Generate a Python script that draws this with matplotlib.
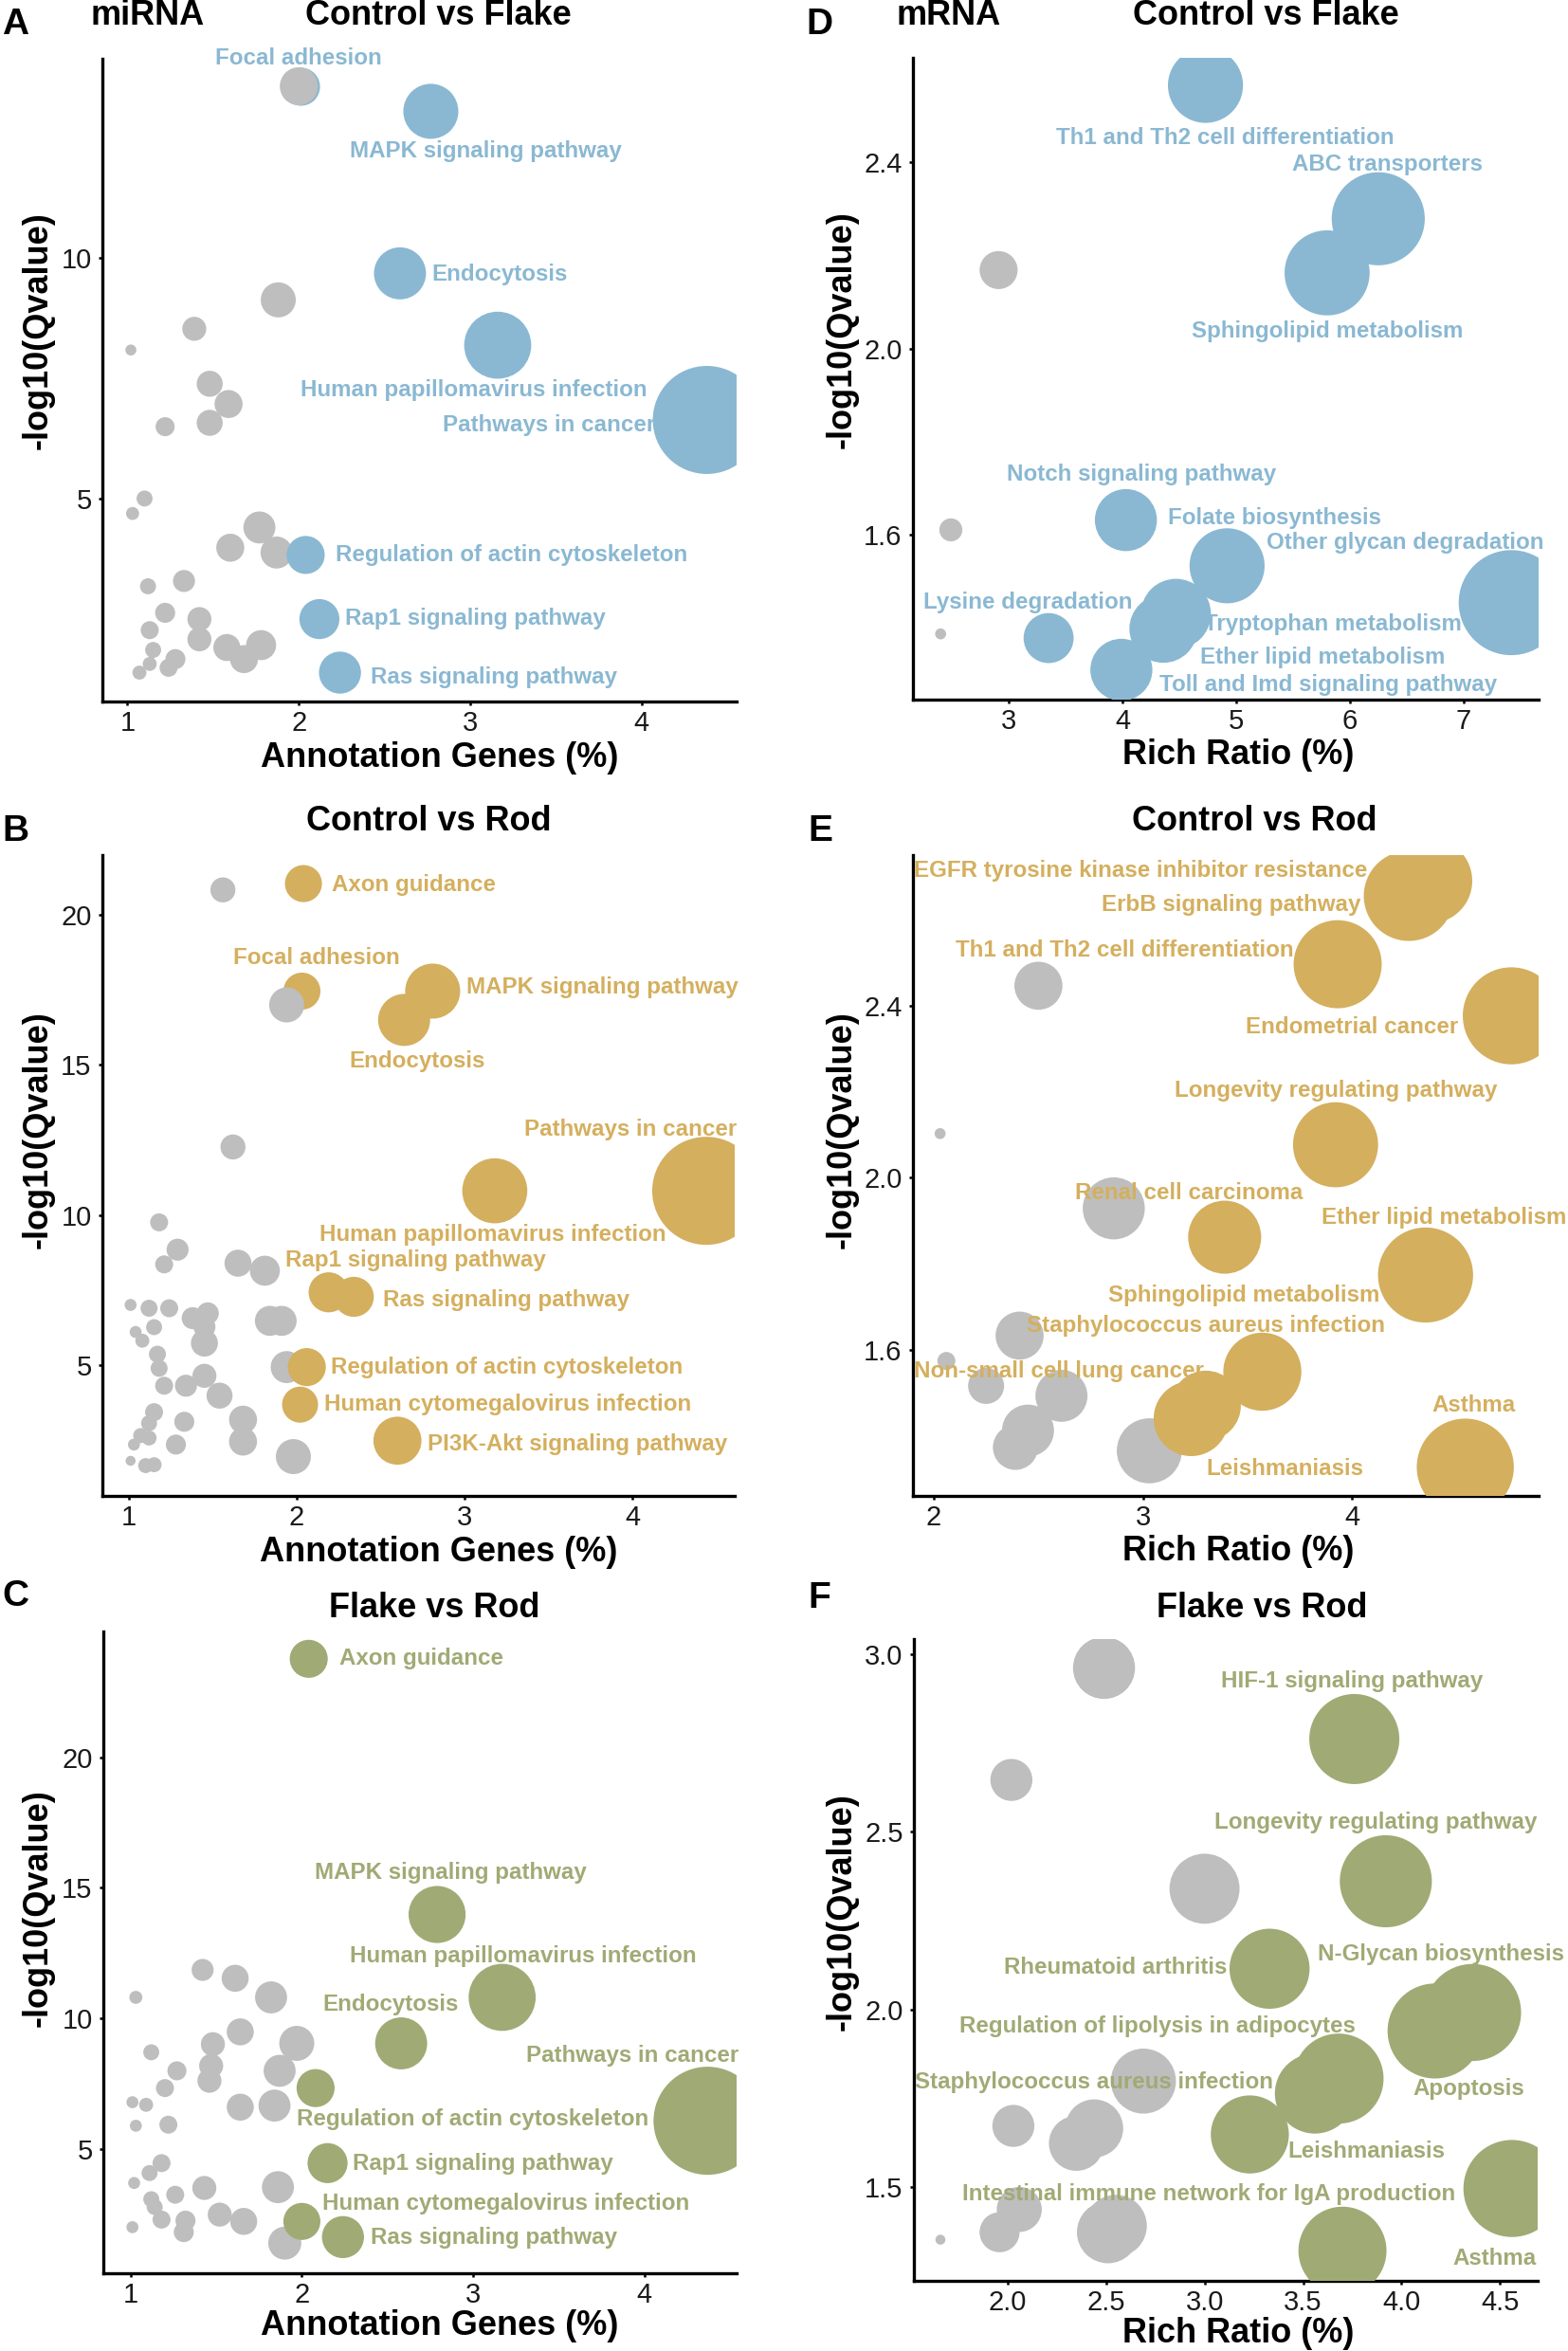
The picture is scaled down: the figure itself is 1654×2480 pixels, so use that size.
import matplotlib
matplotlib.use("Agg")
import matplotlib.pyplot as plt
from matplotlib.ticker import FormatStrFormatter

plt.rcParams['font.family'] = ['Liberation Sans', 'DejaVu Sans']

W, H, DPI = 1654, 2480, 200

BLUE = '#8ab8d2'
GOLD = '#d4af5e'
GREEN = '#a0aa75'
GREY = '#bebebe'

# ---------------- A: miRNA, Control vs Flake ----------------
a_grey_x = [2.00, 1.88, 1.39, 1.02, 1.48, 1.59, 1.48, 1.22, 1.10, 1.03, 1.77, 1.60, 1.87, 1.33,
            1.12, 1.22, 1.13, 1.42, 1.42, 1.58, 1.78, 1.68, 1.28, 1.15, 1.24, 1.13, 1.07]
a_grey_y = [13.55, 9.12, 8.52, 8.08, 7.38, 6.96, 6.57, 6.49, 5.00, 4.69, 4.40, 3.98, 3.88, 3.29,
            3.18, 2.63, 2.27, 2.50, 2.08, 1.91, 1.96, 1.67, 1.67, 1.86, 1.49, 1.57, 1.39]
a_grey_n = [19, 17.5, 12, 5.5, 13, 14, 13, 9.5, 8, 6.5, 16, 14, 16, 11,
            8, 10, 9, 12, 12, 13.5, 15, 14, 10, 8, 9, 7, 7]
a_hit_x = [2.01, 2.77, 2.59, 3.16, 4.38, 2.04, 2.12, 2.24]
a_hit_y = [13.55, 13.03, 9.67, 8.18, 6.63, 3.83, 2.50, 1.39]
a_hit_n = [19, 27.5, 26, 33.5, 54, 19, 20, 21]
a_terms = ['Focal adhesion', 'MAPK signaling pathway', 'Endocytosis', 'Human papillomavirus infection',
           'Pathways in cancer', 'Regulation of actin cytoskeleton', 'Rap1 signaling pathway',
           'Ras signaling pathway']
a_lab_x = [2.00, 3.09, 3.17, 3.02, 3.46, 3.24, 3.03, 3.14]
a_lab_y = [14.13, 12.20, 9.65, 7.25, 6.52, 3.83, 2.51, 1.30]

# ---------------- B: miRNA, Control vs Rod ----------------
b_grey_x = [1.56, 1.94, 1.62, 1.18, 1.29, 1.21, 1.65, 1.81, 1.01, 1.12, 1.24, 1.38, 1.47, 1.45,
            1.84, 1.91, 1.04, 1.08, 1.15, 1.45, 1.17, 1.18, 1.45, 1.34, 1.21, 1.54, 1.94, 1.15,
            1.12, 1.33, 1.68, 1.68, 1.28, 1.07, 1.12, 1.03, 1.01, 1.10, 1.15, 1.98]
b_grey_y = [20.82, 16.99, 12.26, 9.75, 8.84, 8.35, 8.39, 8.14, 7.00, 6.89, 6.89, 6.56, 6.72, 6.27,
            6.47, 6.47, 6.10, 5.81, 6.26, 5.73, 5.36, 4.89, 4.64, 4.31, 4.31, 3.98, 4.93, 3.43,
            3.06, 3.11, 3.18, 2.45, 2.35, 2.65, 2.57, 2.35, 1.81, 1.65, 1.68, 1.95]
b_grey_n = [12.5, 17.5, 12.5, 9, 11, 9, 13.5, 15, 6, 8.5, 9, 11, 11, 11,
            15, 15, 6, 7, 8, 13.5, 8.5, 8.5, 12, 11, 9, 13, 16, 9,
            8, 10, 14, 14, 10, 7.5, 7.5, 6, 5, 7.5, 7.5, 17.5]
b_hit_x = [2.04, 2.03, 2.81, 2.64, 3.18, 4.44, 2.19, 2.34, 2.06, 2.02, 2.60]
b_hit_y = [21.03, 17.45, 17.45, 16.49, 10.80, 10.80, 7.42, 7.27, 4.93, 3.68, 2.48]
b_hit_n = [18.5, 18.5, 27.5, 26, 32.5, 54, 20, 20, 19, 18, 24]
b_terms = ['Axon guidance', 'Focal adhesion', 'MAPK signaling pathway', 'Endocytosis',
           'Human papillomavirus infection', 'Pathways in cancer', 'Rap1 signaling pathway',
           'Ras signaling pathway', 'Regulation of actin cytoskeleton',
           'Human cytomegalovirus infection', 'PI3K-Akt signaling pathway']
b_lab_x = [2.70, 2.12, 3.82, 2.72, 3.17, 3.99, 2.71, 3.25, 3.25, 3.26, 3.67]
b_lab_y = [20.98, 18.54, 17.57, 15.12, 9.33, 12.83, 8.47, 7.17, 4.93, 3.68, 2.36]

# ---------------- C: miRNA, Flake vs Rod ----------------
c_grey_x = [1.03, 1.42, 1.61, 1.82, 1.64, 1.48, 1.97, 1.12, 1.27, 1.47, 1.87, 1.46, 1.20, 1.01,
            1.09, 1.64, 1.84, 1.03, 1.22, 1.18, 1.11, 1.02, 1.43, 1.86, 1.12, 1.26, 1.14, 1.52,
            1.66, 1.18, 1.32, 1.31, 1.01, 1.90]
c_grey_y = [10.81, 11.86, 11.54, 10.81, 9.49, 9.02, 9.05, 8.71, 8.00, 8.19, 8.00, 7.62, 7.34, 6.80,
            6.70, 6.61, 6.67, 5.90, 5.94, 4.47, 4.09, 3.71, 3.52, 3.55, 3.09, 3.26, 2.79, 2.50,
            2.24, 2.31, 2.27, 1.83, 2.02, 1.41]
c_grey_n = [6.5, 11, 13.5, 16, 13.5, 12, 17.5, 8, 9.5, 12, 16, 12, 9, 6,
            7, 13.5, 16, 6, 9, 9, 8, 6, 12, 16, 8, 9, 8, 12,
            13.5, 9, 10, 10, 6, 16.5]
c_hit_x = [2.04, 2.79, 3.17, 2.58, 4.37, 2.08, 2.15, 2.00, 2.24]
c_hit_y = [23.76, 13.98, 10.81, 9.05, 6.09, 7.34, 4.47, 2.24, 1.64]
c_hit_n = [19, 28.5, 33.5, 26, 54, 19, 20, 18.5, 21]
c_terms = ['Axon guidance', 'MAPK signaling pathway', 'Human papillomavirus infection', 'Endocytosis',
           'Pathways in cancer', 'Regulation of actin cytoskeleton', 'Rap1 signaling pathway',
           'Human cytomegalovirus infection', 'Ras signaling pathway']
c_lab_x = [2.70, 2.87, 3.29, 2.52, 3.93, 3.00, 3.06, 3.19, 3.12]
c_lab_y = [23.76, 15.59, 12.40, 10.55, 8.58, 6.15, 4.43, 2.94, 1.60]

# ---------------- D: mRNA, Control vs Flake ----------------
d_grey_x = [2.91, 2.49, 2.40]
d_grey_y = [2.168, 1.611, 1.388]
d_grey_n = [19, 11.5, 5.5]
d_hit_x = [4.73, 6.25, 5.80, 4.03, 4.92, 7.42, 4.47, 4.36, 3.35, 3.99]
d_hit_y = [2.564, 2.278, 2.162, 1.632, 1.534, 1.455, 1.431, 1.399, 1.379, 1.311]
d_hit_n = [37.5, 46.5, 42.5, 31, 37.5, 52.5, 35, 34, 25, 31]
d_terms = ['Th1 and Th2 cell differentiation', 'ABC transporters', 'Sphingolipid metabolism',
           'Notch signaling pathway', 'Folate biosynthesis', 'Other glycan degradation',
           'Lysine degradation', 'Tryptophan metabolism', 'Ether lipid metabolism',
           'Toll and Imd signaling pathway']
d_lab_x = [4.90, 6.33, 5.80, 4.17, 5.34, 6.49, 3.17, 5.85, 5.76, 5.81]
d_lab_y = [2.451, 2.395, 2.037, 1.729, 1.637, 1.584, 1.455, 1.409, 1.338, 1.279]

# ---------------- E: mRNA, Control vs Rod ----------------
e_grey_x = [2.50, 2.03, 2.86, 2.41, 2.06, 2.25, 2.61, 2.45, 2.39, 3.03]
e_grey_y = [2.447, 2.103, 1.929, 1.633, 1.574, 1.516, 1.493, 1.412, 1.373, 1.365]
e_grey_n = [24, 5.5, 31, 24, 9, 18, 26, 26, 22.5, 32.5]
e_hit_x = [4.37, 4.27, 3.93, 4.76, 3.92, 3.39, 4.35, 3.57, 3.30, 3.23, 4.54]
e_hit_y = [2.691, 2.656, 2.497, 2.377, 2.077, 1.862, 1.774, 1.549, 1.470, 1.440, 1.327]
e_hit_n = [42.5, 45, 44, 48.5, 42.5, 36.5, 47.5, 39, 35, 37.5, 48.5]
e_terms = ['EGFR tyrosine kinase inhibitor resistance', 'ErbB signaling pathway',
           'Th1 and Th2 cell differentiation', 'Endometrial cancer', 'Longevity regulating pathway',
           'Renal cell carcinoma', 'Ether lipid metabolism', 'Sphingolipid metabolism',
           'Staphylococcus aureus infection', 'Non-small cell lung cancer', 'Asthma', 'Leishmaniasis']
e_lab_x = [2.99, 3.42, 2.91, 4.00, 3.92, 3.22, 4.44, 3.48, 3.30, 2.60, 4.58, 3.68]
e_lab_y = [2.714, 2.635, 2.530, 2.351, 2.202, 1.964, 1.908, 1.726, 1.656, 1.551, 1.470, 1.324]

# ---------------- F: mRNA, Flake vs Rod ----------------
f_grey_x = [2.49, 2.02, 3.00, 2.69, 2.03, 2.44, 2.35, 2.06, 1.96, 2.55, 2.51, 1.66]
f_grey_y = [2.961, 2.646, 2.340, 1.799, 1.673, 1.666, 1.624, 1.438, 1.374, 1.392, 1.374, 1.353]
f_grey_n = [31, 21, 35, 32.5, 21, 29, 27.5, 22.5, 20, 31, 31, 5]
f_hit_x = [3.76, 3.92, 3.33, 4.36, 4.17, 3.68, 3.56, 3.23, 4.56, 3.70]
f_hit_y = [2.761, 2.361, 2.115, 1.992, 1.940, 1.806, 1.764, 1.649, 1.497, 1.322]
f_hit_n = [45, 46, 40, 48.5, 47.5, 45, 40, 39, 48.5, 44]
f_terms = ['HIF-1 signaling pathway', 'Longevity regulating pathway', 'Rheumatoid arthritis',
           'N-Glycan biosynthesis', 'Regulation of lipolysis in adipocytes',
           'Staphylococcus aureus infection', 'Apoptosis', 'Leishmaniasis',
           'Intestinal immune network for IgA production', 'Asthma']
f_lab_x = [3.75, 3.87, 2.55, 4.20, 2.76, 2.44, 4.34, 3.82, 3.02, 4.47]
f_lab_y = [2.923, 2.527, 2.119, 2.157, 1.954, 1.796, 1.778, 1.600, 1.480, 1.301]


def bubble(n):
    # gene count -> marker area (pt^2)
    return (0.76 * n) ** 2


def panel(rect, gx, gy, gn, hx, hy, hn, terms, lx, ly, color, xlim, ylim, xticks, yticks,
          xlabel, fmt=None, back=(), ylab_pos=(-0.10, 0.575), xlab_pos=(0.53, -0.088)):
    ax = fig.add_axes(rect)
    ax.scatter(gx, gy, s=[bubble(n) for n in gn], c=GREY, linewidths=0, zorder=2)
    for keep, z in ((True, 1), (False, 3)):
        idx = [i for i in range(len(hx)) if (i in back) == keep]
        if idx:
            ax.scatter([hx[i] for i in idx], [hy[i] for i in idx], s=[bubble(hn[i]) for i in idx],
                       c=color, linewidths=0, zorder=z)
    for t, x, y in zip(terms, lx, ly):
        ax.text(x, y, t, color=color, fontsize=8.7, fontweight='bold', ha='center', va='center',
                zorder=5, clip_on=False)
    ax.set_xlim(*xlim)
    ax.set_ylim(*ylim)
    ax.set_xticks(xticks)
    ax.set_yticks(yticks)
    if fmt:
        ax.yaxis.set_major_formatter(FormatStrFormatter(fmt))
    for s in ('top', 'right'):
        ax.spines[s].set_visible(False)
    for s in ('left', 'bottom'):
        ax.spines[s].set_linewidth(1.2)
    ax.tick_params(direction='out', length=1.6, width=0.9, labelsize=10.5, labelcolor='#1a1a1a')
    ax.tick_params(axis='x', pad=1.5)
    ax.tick_params(axis='y', pad=2.5)
    ax.set_xlabel(xlabel, fontsize=13, fontweight='bold', va='center')
    ax.set_ylabel('-log10(Qvalue)', fontsize=13, fontweight='bold', va='center')
    ax.xaxis.set_label_coords(*xlab_pos)
    ax.yaxis.set_label_coords(*ylab_pos)
    return ax


fig = plt.figure(figsize=(W / DPI, H / DPI), dpi=DPI)

panel([0.0653, 0.7016, 0.4045, 0.2734], a_grey_x, a_grey_y, a_grey_n, a_hit_x, a_hit_y, a_hit_n,
      a_terms, a_lab_x, a_lab_y, BLUE, (0.854, 4.554), (0.79, 14.12), [1, 2, 3, 4], [5, 10],
      'Annotation Genes (%)', back=(0,), ylab_pos=(-0.102, 0.577), xlab_pos=(0.531, -0.087))
panel([0.0653, 0.3637, 0.4033, 0.2726], b_grey_x, b_grey_y, b_grey_n, b_hit_x, b_hit_y, b_hit_n,
      b_terms, b_lab_x, b_lab_y, GOLD, (0.842, 4.61), (0.64, 21.98), [1, 2, 3, 4], [5, 10, 15, 20],
      'Annotation Genes (%)', back=(1,), ylab_pos=(-0.102, 0.572), xlab_pos=(0.532, -0.088))
panel([0.0659, 0.0331, 0.4039, 0.2730], c_grey_x, c_grey_y, c_grey_n, c_hit_x, c_hit_y, c_hit_n,
      c_terms, c_lab_x, c_lab_y, GREEN, (0.84, 4.54), (0.26, 24.81), [1, 2, 3, 4], [5, 10, 15, 20],
      'Annotation Genes (%)', ylab_pos=(-0.103, 0.569), xlab_pos=(0.531, -0.082))
panel([0.5822, 0.7024, 0.3990, 0.2730], d_grey_x, d_grey_y, d_grey_n, d_hit_x, d_hit_y, d_hit_n,
      d_terms, d_lab_x, d_lab_y, BLUE, (2.156, 7.66), (1.247, 2.623), [3, 4, 5, 6, 7], [1.6, 2.0, 2.4],
      'Rich Ratio (%)', fmt='%.1f', ylab_pos=(-0.114, 0.576), xlab_pos=(0.52, -0.087))
panel([0.5822, 0.3637, 0.3990, 0.2726], e_grey_x, e_grey_y, e_grey_n, e_hit_x, e_hit_y, e_hit_n,
      e_terms, e_lab_x, e_lab_y, GOLD, (1.90, 4.89), (1.26, 2.751), [2, 3, 4], [1.6, 2.0, 2.4],
      'Rich Ratio (%)', fmt='%.1f', ylab_pos=(-0.114, 0.571), xlab_pos=(0.52, -0.086))
ax_f = panel([0.5828, 0.0298, 0.3978, 0.2730], f_grey_x, f_grey_y, f_grey_n, f_hit_x, f_hit_y, f_hit_n,
             f_terms, f_lab_x, f_lab_y, GREEN, (1.525, 4.69), (1.237, 3.042),
             [2.0, 2.5, 3.0, 3.5, 4.0, 4.5], [1.5, 2.0, 2.5, 3.0],
             'Rich Ratio (%)', fmt='%.1f', ylab_pos=(-0.115, 0.575), xlab_pos=(0.52, -0.082))
ax_f.xaxis.set_major_formatter(FormatStrFormatter('%.1f'))


def ftext(x, y, s, size=13):
    fig.text(x / W, 1 - y / H, s, fontsize=size, fontweight='bold', ha='center', va='center')


ftext(16, 26, 'A', 14)
ftext(16, 877, 'B', 14)
ftext(16, 1684, 'C', 14)
ftext(864, 26, 'D', 14)
ftext(865, 877, 'E', 14)
ftext(864, 1686, 'F', 14)
ftext(156, 17, 'miRNA')
ftext(1001, 17, 'mRNA')
ftext(462, 16, 'Control vs Flake')
ftext(452, 867, 'Control vs Rod')
ftext(458, 1696, 'Flake vs Rod')
ftext(1335, 16, 'Control vs Flake')
ftext(1323, 867, 'Control vs Rod')
ftext(1331, 1696, 'Flake vs Rod')

fig.savefig('out.png', dpi=DPI)
